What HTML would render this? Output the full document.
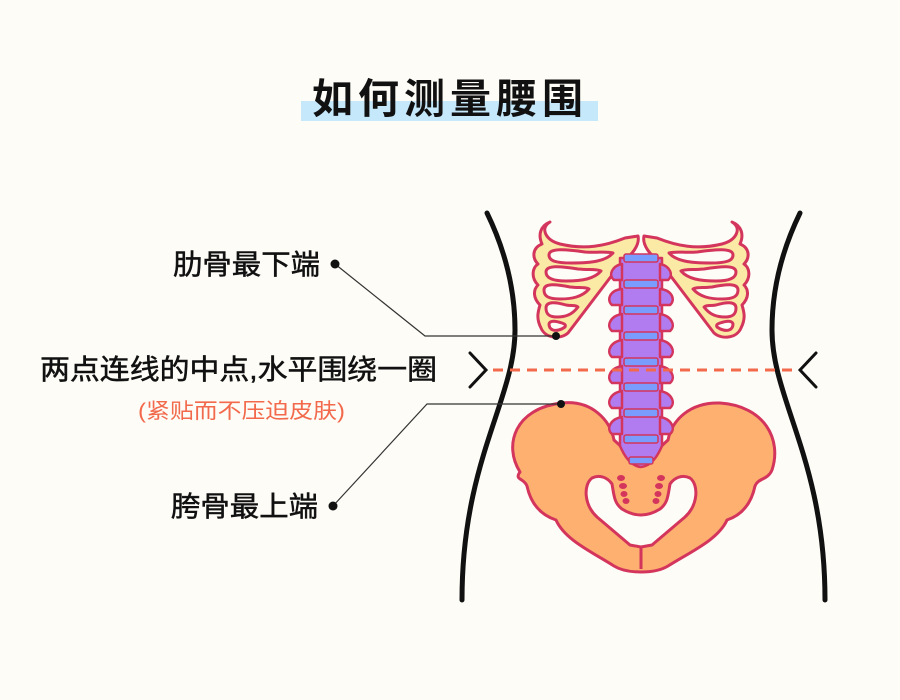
<!DOCTYPE html>
<html><head><meta charset="utf-8"><style>
html,body{margin:0;padding:0;background:#fdfcf7;}
svg{display:block}
text{font-family:"Liberation Sans","Noto Sans CJK SC",sans-serif;}
</style></head><body>
<svg width="900" height="700" viewBox="0 0 900 700" xmlns="http://www.w3.org/2000/svg">
<rect width="900" height="700" fill="#fdfcf7"/>
<rect x="301" y="101" width="297" height="20" fill="#c5e8fb"/>
<text x="450" y="113" text-anchor="middle" font-size="41" font-weight="bold" letter-spacing="5" fill="#111">如何测量腰围</text>

<path d="M487,213 C505,250 515,290 515,330 C515,400 462,460 462,600" fill="none" stroke="#111" stroke-width="5" stroke-linecap="round"/>
<path d="M800,213 C782,250 772,290 772,330 C772,400 825,460 825,600" fill="none" stroke="#111" stroke-width="5" stroke-linecap="round"/>

<g id="ribL" stroke="#d4355c" stroke-width="3" stroke-linejoin="round">
<path fill="#fbeaa5" d="M550,222 C540,228 545,240 560,244 C585,250 605,246 625,238 L638,236 C640,245 632,255 622,262 L568,333 C560,340 545,338 541,328 C536,318 538,312 540,305 C533,298 533,290 538,285 C531,278 532,268 538,264 C532,258 532,248 542,244 C538,235 540,226 550,222 Z"/>
<path fill="#fdfcf7" d="M549,255 C549,248 565,249 585,252 C598,253 606,251 613,253 C606,261 592,263 572,263 C556,263 549,261 549,255 Z"/>
<path fill="#fdfcf7" d="M546,272 C546,265 560,266 578,269 C590,270 597,269 601,271 C594,279 582,281 566,281 C552,281 546,278 546,272 Z"/>
<path fill="#fdfcf7" d="M544,290 C544,283 556,284 570,287 C580,288 586,287 589,289 C582,297 572,299 560,299 C548,299 544,296 544,290 Z"/>
<path fill="#fdfcf7" d="M546,308 C546,301 556,302 566,305 C572,306 576,305 578,307 C572,315 565,317 557,317 C549,317 546,314 546,308 Z"/>
<path fill="#fdfcf7" d="M549,324 C550,320 556,321 562,323 C565,324 566,325 565,327 C561,330 556,331 553,330 C550,329 549,327 549,324 Z"/>
</g>
<use href="#ribL" transform="translate(1282,0) scale(-1,1)"/>

<g stroke="#d4355c" stroke-width="3" stroke-linejoin="round">
<path fill="#fdb070" d="M520,472 C503,445 515,408 562,403 C592,400 610,420 614,440 L641,465 L668,440 C672,420 690,402 720,403 C765,406 782,440 772,470 C768,480 758,478 755,486 C752,500 745,514 727,520 C718,540 690,552 668,566 C655,574 627,574 614,566 C592,552 565,540 556,520 C538,514 530,500 527,486 C524,478 514,480 520,472 Z"/>
<path fill="#fdfcf7" d="M592,478 C583,485 584,505 597,517 L630,545 L641,547 L652,545 L685,517 C698,505 699,485 690,478 C682,474 674,478 670,484 C668,495 668,503 660,509 C652,514 646,515 641,515 C636,515 630,514 622,509 C614,503 614,495 612,484 C608,478 600,474 592,478 Z"/>
<path fill="none" d="M641,547 L641,569"/>
</g>
<g fill="#d4355c">
<ellipse cx="621" cy="478" rx="4" ry="3"/><ellipse cx="623" cy="486" rx="4" ry="3"/><ellipse cx="624" cy="494" rx="3.5" ry="3"/><ellipse cx="626" cy="501" rx="3.5" ry="3"/>
<ellipse cx="661" cy="478" rx="4" ry="3"/><ellipse cx="659" cy="486" rx="4" ry="3"/><ellipse cx="658" cy="494" rx="3.5" ry="3"/><ellipse cx="656" cy="501" rx="3.5" ry="3"/>
</g>

<g stroke="#d4355c" stroke-width="2.5" stroke-linejoin="round">
<path fill="#b07cf0" d="M620,446 L620,258 L662,258 L662,446 C658,455 652,466 641,467 C630,466 624,455 620,446 Z"/>
<g fill="#b07cf0">
<path d="M622,264 C612,266 608,275 614,280 L622,280 Z M660,264 C670,266 674,275 668,280 L660,280 Z"/>
<path d="M622,289 C610,290 606,300 612,305 L622,305 Z M660,289 C672,290 676,300 670,305 L660,305 Z"/>
<path d="M622,314 C610,316 606,326 612,331 L622,331 Z M660,314 C672,316 676,326 670,331 L660,331 Z"/>
<path d="M622,340 C610,342 606,352 612,357 L622,357 Z M660,340 C672,342 676,352 670,357 L660,357 Z"/>
<path d="M622,366 C610,368 606,378 612,383 L622,383 Z M660,366 C672,368 676,378 670,383 L660,383 Z"/>
<path d="M622,391 C610,393 606,403 612,408 L622,408 Z M660,391 C672,393 676,403 670,408 L660,408 Z"/>
<path d="M622,417 C610,419 606,429 612,434 L622,434 Z M660,417 C672,419 676,429 670,434 L660,434 Z"/>
</g>
</g>
<g fill="#7a9cff" stroke="#d4355c" stroke-width="1.5">
<rect x="624" y="254" width="34" height="8" rx="2"/>
<rect x="624" y="280" width="34" height="8" rx="2"/>
<rect x="624" y="306" width="34" height="8" rx="2"/>
<rect x="624" y="332" width="34" height="8" rx="2"/>
<rect x="624" y="358" width="34" height="8" rx="2"/>
<rect x="624" y="383" width="34" height="8" rx="2"/>
<rect x="624" y="409" width="34" height="8" rx="2"/>
<rect x="624" y="435" width="34" height="8" rx="2"/>
<rect x="629" y="457" width="24" height="7" rx="2"/>
</g>

<line x1="493" y1="370" x2="795" y2="370" stroke="#f2694b" stroke-width="3" stroke-dasharray="10,7"/>
<path d="M470,353 L486,370 L470,387" fill="none" stroke="#111" stroke-width="3" stroke-linecap="round"/>
<path d="M816,353 L800,370 L816,387" fill="none" stroke="#111" stroke-width="3" stroke-linecap="round"/>

<path d="M335,264 L425,336 L556,336" fill="none" stroke="#333" stroke-width="1.2"/>
<path d="M333,506 L427,404 L561,404" fill="none" stroke="#333" stroke-width="1.2"/>
<circle cx="335" cy="264" r="4.5" fill="#111"/>
<circle cx="556" cy="336" r="4" fill="#111"/>
<circle cx="333" cy="506" r="4.5" fill="#111"/>
<circle cx="561" cy="404" r="4" fill="#111"/>

<g fill="#111" stroke="#111" stroke-width="0.5">
<text x="173" y="274" textLength="147" lengthAdjust="spacingAndGlyphs" font-size="28">肋骨最下端</text>
<text x="40" y="379" textLength="397" lengthAdjust="spacingAndGlyphs" font-size="28">两点连线的中点,水平围绕一圈</text>
<text x="171" y="516" textLength="147" lengthAdjust="spacingAndGlyphs" font-size="28">胯骨最上端</text>
</g>
<text x="138" y="418" textLength="207" lengthAdjust="spacingAndGlyphs" font-size="21" fill="#f2694b">(紧贴而不压迫皮肤)</text>
</svg>
</body></html>
